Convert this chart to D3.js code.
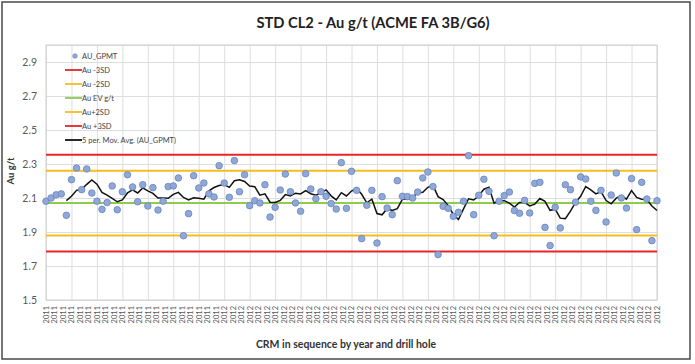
<!DOCTYPE html>
<html><head><meta charset="utf-8">
<script src="https://cdn.jsdelivr.net/npm/d3@7"></script>
<style>
html,body{margin:0;padding:0;background:#fff;}
svg{display:block;font-family:Lato,"Open Sans",sans-serif;}
</style></head>
<body>
<svg id="chart" width="695" height="364"></svg>
<script>
// ---- data ----
const auValues = [
 2.081,2.100,2.119,2.124,1.998,2.208,2.276,2.149,2.271,2.129,
 2.081,2.033,2.073,2.171,2.031,2.137,2.237,2.165,2.078,2.178,
 2.053,2.161,2.029,2.081,2.167,2.171,2.218,1.878,2.008,2.231,
 2.159,2.188,2.124,2.106,2.290,2.188,2.104,2.320,2.137,2.237,
 2.055,2.084,2.071,2.178,1.988,2.045,2.147,2.241,2.137,2.071,
 2.022,2.243,2.153,2.096,2.137,2.110,2.067,2.035,2.308,2.039,
 2.257,2.145,1.861,2.057,2.145,1.835,2.108,2.041,2.002,2.202,
 2.110,2.108,2.100,2.135,2.218,2.253,2.167,1.767,2.051,2.039,
 1.992,2.016,2.081,2.349,2.002,2.116,2.210,2.139,1.878,2.081,
 2.114,2.135,2.026,2.010,2.086,2.012,2.186,2.192,1.927,1.820,
 2.045,1.924,2.178,2.149,2.075,2.224,2.212,2.081,2.027,2.145,
 1.959,2.118,2.247,2.100,2.041,2.214,1.914,2.192,2.094,1.849,
 2.084
];
const evValue = 2.07;
const sdValue = 0.095;
const yTicks = [1.5,1.7,1.9,2.1,2.3,2.5,2.7,2.9];
const xLabels = [
 "2011","2011","2011","2011","2011","2011","2011","2011","2011","2011",
 "2011","2011","2011","2011","2011","2011","2011","2011","2011","2011","2011",
 "2012","2012","2012","2012","2012","2012","2012","2012","2012","2012",
 "2012","2012","2012","2012","2012","2012","2012","2012","2012","2012",
 "2012","2012","2012","2012","2012","2012","2012","2012","2012","2012",
 "2012","2012","2012","2012","2012","2012","2012","2012","2012","2012",
 "2012","2012","2012","2012","2012","2012","2012","2012","2012","2012",
 "2012","2012"
];
const refLines = [
 {name:"Au -3SD", k:-3, color:"#e5262a"},
 {name:"Au -2SD", k:-2, color:"#f5bd1f"},
 {name:"Au EV g/t", k:0, color:"#8fcb4f"},
 {name:"Au+2SD", k:2, color:"#f5bd1f"},
 {name:"Au +3SD", k:3, color:"#e5262a"}
];
const maPeriod = 5;

// ---- layout ----
const svg = d3.select("#chart");
const L = 46, R = 657, T = 45, B = 300;
const x = d3.scaleLinear().domain([0, auValues.length-1]).range([L, R]);
const y = d3.scaleLinear().domain([1.5, 3.0]).range([B, T]);
const labelX = d3.scaleLinear().domain([0, xLabels.length-1]).range([L, R]);

// outer frame
svg.append("rect").attr("x",2).attr("y",2).attr("width",688).attr("height",357)
  .attr("fill","#fff").attr("stroke","#4a4a4a").attr("stroke-width",1.5);

// gridlines
const vGrid = d3.range(0, auValues.length, 5);
svg.append("g").attr("transform",`translate(0,${B})`)
  .call(d3.axisBottom(x).tickValues(vGrid).tickSize(-(B-T)).tickFormat(""))
  .call(g=>g.select(".domain").remove())
  .call(g=>g.selectAll("line").attr("stroke","#dedede").attr("stroke-width",1));
svg.append("g").attr("transform",`translate(${L},0)`)
  .call(d3.axisLeft(y).tickValues(yTicks.concat([3.0])).tickSize(-(R-L)).tickFormat(""))
  .call(g=>g.select(".domain").remove())
  .call(g=>g.selectAll("line").attr("stroke","#dedede").attr("stroke-width",1));
svg.append("rect").attr("x",L).attr("y",T).attr("width",R-L).attr("height",B-T)
  .attr("fill","none").attr("stroke","#d0d0d0");

// reference lines
refLines.forEach(r=>{
  const v = evValue + r.k*sdValue;
  svg.append("line").attr("x1",x(0)).attr("x2",x(auValues.length-1))
    .attr("y1",y(v)).attr("y2",y(v)).attr("stroke",r.color).attr("stroke-width",2);
});

// y axis labels
svg.append("g").attr("transform",`translate(${L-6},0)`)
  .call(d3.axisLeft(y).tickValues(yTicks).tickSize(0).tickFormat(d3.format(".1f")))
  .call(g=>g.select(".domain").remove())
  .call(g=>g.selectAll("text").attr("fill","#595959").attr("font-size",10.5).attr("font-family","Lato,sans-serif"));

// x axis labels
const xa = svg.append("g").attr("transform",`translate(0,${B})`)
  .call(d3.axisBottom(labelX).tickValues(d3.range(xLabels.length)).tickSize(0).tickFormat(i=>xLabels[i]))
  .call(g=>g.select(".domain").remove());
xa.selectAll("text").attr("fill","#595959").attr("font-size",7.5).attr("font-family","Lato,sans-serif")
  .attr("transform","rotate(-90)").attr("text-anchor","end").attr("x",-6).attr("y",0).attr("dy","0.32em");

// moving average
const ma = [];
auValues.forEach((v,i)=>{
  if(i>=maPeriod-1){
    ma.push([i, d3.mean(auValues.slice(i-maPeriod+1,i+1))]);
  }
});
svg.append("path").datum(ma)
  .attr("d", d3.line().x(d=>x(d[0])).y(d=>y(d[1])))
  .attr("fill","none").attr("stroke","#111").attr("stroke-width",1.5);

// points
svg.append("g").selectAll("circle").data(auValues).join("circle")
  .attr("cx",(d,i)=>x(i)).attr("cy",d=>y(d)).attr("r",3.3)
  .attr("fill","#8fa8d8").attr("stroke","#6a84bd").attr("stroke-width",0.8);

// title
svg.append("text").attr("x",373).attr("y",28).attr("text-anchor","middle")
  .attr("font-size",14.7).attr("font-weight","bold").attr("fill","#222")
  .text("STD CL2 - Au g/t (ACME FA 3B/G6)");

// axis titles
svg.append("text").attr("transform","translate(14,171) rotate(-90)").attr("text-anchor","middle")
  .attr("font-size",9.5).attr("font-weight","bold").attr("fill","#333").text("Au g/t");
svg.append("text").attr("x",346).attr("y",348).attr("text-anchor","middle")
  .attr("font-size",10.5).attr("font-weight","bold").attr("fill","#333")
  .text("CRM in sequence by year and drill hole");

// legend
const legendItems = [{name:"AU_GPMT", type:"marker"}]
  .concat(refLines.map(r=>({name:r.name, type:"line", color:r.color})))
  .concat([{name:"5 per. Mov. Avg. (AU_GPMT)", type:"line", color:"#111"}]);
const lg = svg.append("g");
legendItems.forEach((it,i)=>{
  const yy = 56 + i*14;
  if(it.type==="marker"){
    lg.append("circle").attr("cx",75).attr("cy",yy).attr("r",2.3)
      .attr("fill","#8fa8d8").attr("stroke","#6a84bd").attr("stroke-width",0.6);
  } else {
    lg.append("line").attr("x1",65).attr("x2",82).attr("y1",yy).attr("y2",yy)
      .attr("stroke",it.color).attr("stroke-width",1.8);
  }
  lg.append("text").attr("x",82).attr("y",yy).attr("dy","0.35em")
    .attr("font-size",7.5).attr("fill","#444").text(it.name);
});
</script>
</body></html>
